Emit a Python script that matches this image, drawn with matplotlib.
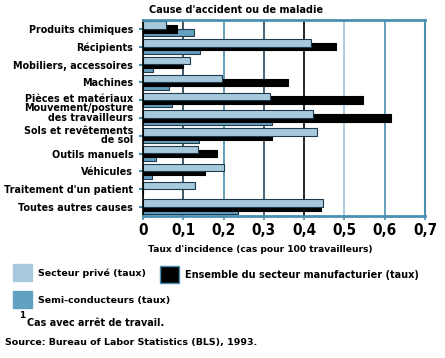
import matplotlib.pyplot as plt
import matplotlib.transforms as mtransforms
import numpy as np
from matplotlib import font_manager

categories = ["Produits chimiques", "Récipients", "Mobiliers, accessoires",
              "Machines", "Pièces et matériaux", "Mouvement/posture\ndes travailleurs",
              "Sols et revêtements\nde sol", "Outils manuels", "Véhicules",
              "Traitement d'un patient", "Toutes autres causes"]
prive = [0.056, 0.418, 0.116, 0.196, 0.316, 0.421, 0.432, 0.137, 0.202, 0.128, 0.446]
manuf = [0.085, 0.480, 0.099, 0.360, 0.546, 0.615, 0.321, 0.183, 0.155, 0.0, 0.441]
semi = [0.127, 0.142, 0.026, 0.065, 0.072, 0.321, 0.139, 0.032, 0.023, 0.0, 0.237]
xticks = [0, 0.1, 0.2, 0.3, 0.4, 0.5, 0.6, 0.7]
xticklabels = ["0", "0,1", "0,2", "0,3", "0,4", "0,5", "0,6", "0,7"]

LIGHT = "#a6c9dc"
SEMI = "#64a0bf"
BLUE = "#4b8fb0"
EDGE = "#1f3b4d"

plt.rcParams["font.family"] = ["DejaVu Sans"]
plt.rcParams["font.weight"] = "bold"

# condensed face for the tick numbers if one is installed
cond = [f for f in font_manager.fontManager.ttflist
        if "Narrow" in f.name or "ondensed" in f.fname]
tick_font = font_manager.FontProperties(fname=cond[0].fname, size=11) if cond \
    else font_manager.FontProperties(family="Liberation Sans", size=10.5)

fig = plt.figure(figsize=(4.45, 3.58), dpi=100)
ax = fig.add_axes([143 / 445, 1 - 216 / 358, 282 / 445, 196 / 358])

y = np.arange(len(categories))
h = 0.42
ax.barh(y + 0.2, semi, height=h, color=SEMI, edgecolor=EDGE, linewidth=0.8, zorder=3)
ax.barh(y, manuf, height=h, color="black", edgecolor="black", linewidth=0.8, zorder=4)
ax.barh(y - 0.22, prive, height=h, color=LIGHT, edgecolor=EDGE, linewidth=0.8, zorder=5)

# vertical grid lines, colours vary like the original
grid_colors = [None, EDGE, BLUE, "#2a4a5c", "black", "#a0c4d8", BLUE, None]
for xv, c in zip(xticks, grid_colors):
    if c is not None:
        ax.axvline(xv, color=c, linewidth=1.2, zorder=1)

ax.set_xlim(0, 0.7)
ax.set_ylim(len(categories) - 0.5, -0.5)
ax.set_xticks(xticks)
ax.set_xticklabels(xticklabels, fontproperties=tick_font)
ax.set_yticks(y)
ax.set_yticklabels(categories, fontsize=6.95, linespacing=0.95)
ax.tick_params(axis="x", colors=BLUE, labelcolor="black", length=3, width=1.2, pad=2)
ax.tick_params(axis="y", colors=BLUE, labelcolor="black", length=3, width=1.5, pad=4)

# the original packs these labels tighter than their ticks
for i, dy in [(4, 2.0), (5, 5.5), (6, 1.0)]:
    lab = ax.get_yticklabels()[i]
    lab.set_transform(lab.get_transform() +
                      mtransforms.ScaledTranslation(0, dy / 100, fig.dpi_scale_trans))

ax.spines["left"].set_color("black")
ax.spines["left"].set_linewidth(1.2)
ax.spines["bottom"].set_color(BLUE)
ax.spines["bottom"].set_linewidth(2)
ax.spines["top"].set_color(BLUE)
ax.spines["top"].set_linewidth(2)
ax.spines["right"].set_color(BLUE)
ax.spines["right"].set_linewidth(1.5)
for s in ax.spines.values():
    s.set_zorder(6)

fig.text(236 / 445, 1 - 10 / 358, "Cause d'accident ou de maladie",
         ha="center", va="center", fontsize=7.0)
fig.text(260 / 445, 1 - 249 / 358, "Taux d'incidence (cas pour 100 travailleurs)",
         ha="center", va="center", fontsize=6.6)

# legend
legend_items = [(13, 264, LIGHT, "Secteur privé (taux)", 6.8),
                (160, 266, "black", "Ensemble du secteur manufacturier (taux)", 7.0),
                (13, 291, SEMI, "Semi-conducteurs (taux)", 6.8)]
for x0, y0, col, label, fs in legend_items:
    fig.patches.append(plt.Rectangle((x0 / 445, 1 - (y0 + 17) / 358), 19 / 445, 17 / 358,
                                     transform=fig.transFigure, facecolor=col,
                                     edgecolor=BLUE if col == "black" else col, linewidth=1))
    fig.text((x0 + 25) / 445, 1 - (y0 + 9) / 358, label,
             ha="left", va="center", fontsize=fs)

fig.text(19 / 445, 1 - 316 / 358, "1", ha="left", va="center", fontsize=6.5)
fig.text(27 / 445, 1 - 323 / 358, "Cas avec arrêt de travail.",
         ha="left", va="center", fontsize=6.9)
fig.text(5 / 445, 1 - 342 / 358, "Source: Bureau of Labor Statistics (BLS), 1993.",
         ha="left", va="center", fontsize=6.8)

fig.savefig("out.png", dpi=100)
